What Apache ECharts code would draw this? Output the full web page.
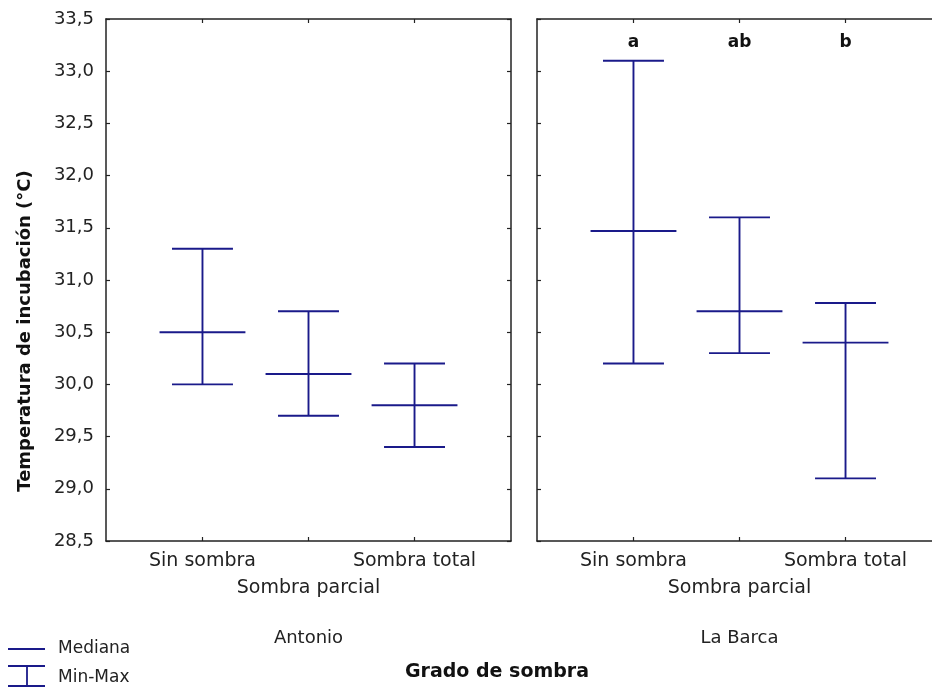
<!DOCTYPE html>
<html>
<head>
<meta charset="utf-8">
<script src="https://cdn.jsdelivr.net/npm/echarts@6/dist/echarts.min.js"></script>
<style>html,body{margin:0;padding:0;background:#fff}#c{width:932px;height:687px}</style>
</head>
<body>
<div id="c"></div>
<script>
const categories = ['Sin sombra', 'Sombra parcial', 'Sombra total'];
const catPositions = [1, 2, 3];
const sites = ['Antonio', 'La Barca'];
const antonioMin = [30.0, 29.7, 29.4];
const antonioMedian = [30.5, 30.1, 29.8];
const antonioMax = [31.3, 30.7, 30.2];
const barcaMin = [30.2, 30.3, 29.1];
const barcaMedian = [31.47, 30.7, 30.4];
const barcaMax = [33.1, 31.6, 30.78];
const barcaLetters = ['a', 'ab', 'b'];
const letterLevel = 33.27;
const yMin = 28.5, yMax = 33.5, yStep = 0.5;
const yTitle = 'Temperatura de incubación (°C)';
const xTitle = 'Grado de sombra';
const legendNames = ['Mediana', 'Min-Max'];

const NAVY = '#1a1a8a';
const AX = '#222';
const FONT = 'DejaVu Sans';

function build(mins, meds, maxs) {
  return catPositions.map((p, i) => [p, mins[i], meds[i], maxs[i]]);
}

function renderItem(params, api) {
  const x = api.value(0);
  const lo = api.coord([x, api.value(1)]);
  const md = api.coord([x, api.value(2)]);
  const hi = api.coord([x, api.value(3)]);
  const capW = api.size([0.575, 0])[0] / 2;
  const medW = api.size([0.81, 0])[0] / 2;
  const st = { stroke: NAVY, lineWidth: 1.9 };
  return {
    type: 'group',
    children: [
      { type: 'line', shape: { x1: hi[0], y1: hi[1], x2: lo[0], y2: lo[1] }, style: st },
      { type: 'line', shape: { x1: hi[0] - capW, y1: hi[1], x2: hi[0] + capW, y2: hi[1] }, style: st },
      { type: 'line', shape: { x1: lo[0] - capW, y1: lo[1], x2: lo[0] + capW, y2: lo[1] }, style: st },
      { type: 'line', shape: { x1: md[0] - medW, y1: md[1], x2: md[0] + medW, y2: md[1] }, style: st }
    ]
  };
}

const grids = [
  { left: 106, top: 19, width: 405, height: 522, outerBoundsMode: 'none', containLabel: false },
  { left: 537, top: 19, width: 405, height: 522, outerBoundsMode: 'none', containLabel: false }
];

const catStyle = { color: '#222', fontFamily: FONT, fontSize: 19 };
const siteStyle = { color: '#222', fontFamily: FONT, fontSize: 18 };
const xAxes = [];
const yAxes = [];
[0, 1].forEach(g => {
  xAxes.push({
    type: 'value', gridIndex: g, position: 'bottom', min: 0.09, max: 3.91,
    splitLine: { show: false },
    axisLine: { show: true, lineStyle: { color: AX, width: 1.5 } },
    axisTick: { show: true, inside: true, length: 4, customValues: catPositions, lineStyle: { color: AX, width: 1.2 } },
    axisLabel: Object.assign({
      show: true, customValues: [catPositions[0], catPositions[2]], margin: 11, hideOverlap: false,
      formatter: v => categories[catPositions.indexOf(v)]
    }, catStyle),
    name: sites[g], nameLocation: 'middle', nameGap: 88,
    nameTextStyle: siteStyle
  });
  xAxes.push({
    type: 'value', gridIndex: g, position: 'bottom', offset: 27, min: 0.09, max: 3.91,
    splitLine: { show: false },
    axisLine: { show: false },
    axisTick: { show: false },
    axisLabel: Object.assign({
      show: true, customValues: [catPositions[1]], margin: 11, hideOverlap: false,
      formatter: v => categories[catPositions.indexOf(v)]
    }, catStyle)
  });
  xAxes.push({
    type: 'value', gridIndex: g, position: 'top', min: 0.09, max: 3.91,
    splitLine: { show: false },
    axisLine: { show: true, lineStyle: { color: AX, width: 1.5 } },
    axisTick: { show: true, inside: true, length: 4, customValues: catPositions, lineStyle: { color: AX, width: 1.2 } },
    axisLabel: { show: false }
  });
  yAxes.push({
    type: 'value', gridIndex: g, position: 'left', min: yMin, max: yMax, interval: yStep,
    splitLine: { show: false },
    axisLine: { show: true, lineStyle: { color: AX, width: 1.5 } },
    axisTick: { show: true, inside: true, length: 4, lineStyle: { color: AX, width: 1.2 } },
    axisLabel: {
      show: g === 0, margin: 12, color: '#222', fontFamily: FONT, fontSize: 18,
      formatter: v => v.toFixed(1).replace('.', ',')
    }
  });
  yAxes.push({
    type: 'value', gridIndex: g, position: 'right', min: yMin, max: yMax, interval: yStep,
    splitLine: { show: false },
    axisLine: { show: true, lineStyle: { color: AX, width: 1.5 } },
    axisTick: { show: true, inside: true, length: 4, lineStyle: { color: AX, width: 1.2 } },
    axisLabel: { show: false }
  });
});

const option = {
  animation: false,
  backgroundColor: '#fff',
  grid: grids,
  xAxis: xAxes,
  yAxis: yAxes,
  series: [
    { type: 'custom', xAxisIndex: 0, yAxisIndex: 0, renderItem, data: build(antonioMin, antonioMedian, antonioMax), encode: { x: 0, y: [1, 2, 3] } },
    { type: 'custom', xAxisIndex: 3, yAxisIndex: 2, renderItem, data: build(barcaMin, barcaMedian, barcaMax), encode: { x: 0, y: [1, 2, 3] } },
    {
      type: 'scatter', xAxisIndex: 3, yAxisIndex: 2, symbolSize: 0, silent: true,
      itemStyle: { opacity: 1 },
      data: catPositions.map((p, i) => ({ value: [p, letterLevel], name: barcaLetters[i] })),
      label: { show: true, position: 'inside', opacity: 1, formatter: p => p.name, color: '#111', fontFamily: FONT, fontWeight: 'bold', fontSize: 17 }
    }
  ],
  graphic: [
    { type: 'text', x: 25, y: 331, rotation: Math.PI / 2,
      style: { text: yTitle, fill: '#111', font: 'bold 18px "DejaVu Sans"', textAlign: 'center', textVerticalAlign: 'middle' } },
    { type: 'text', x: 497, y: 672,
      style: { text: xTitle, fill: '#111', font: 'bold 19px "DejaVu Sans"', textAlign: 'center', textVerticalAlign: 'middle' } },
    { type: 'line', shape: { x1: 8, y1: 649, x2: 45, y2: 649 }, style: { stroke: NAVY, lineWidth: 1.8 } },
    { type: 'text', x: 58, y: 649, style: { text: legendNames[0], fill: '#222', font: '17px "DejaVu Sans"', textVerticalAlign: 'middle' } },
    { type: 'line', shape: { x1: 8, y1: 666, x2: 45, y2: 666 }, style: { stroke: NAVY, lineWidth: 1.8 } },
    { type: 'line', shape: { x1: 27, y1: 666, x2: 27, y2: 686 }, style: { stroke: NAVY, lineWidth: 1.8 } },
    { type: 'line', shape: { x1: 8, y1: 686, x2: 45, y2: 686 }, style: { stroke: NAVY, lineWidth: 1.8 } },
    { type: 'text', x: 58, y: 678, style: { text: legendNames[1], fill: '#222', font: '17px "DejaVu Sans"', textVerticalAlign: 'middle' } }
  ]
};

echarts.init(document.getElementById('c'), null, { renderer: 'canvas' }).setOption(option);
</script>
</body>
</html>
